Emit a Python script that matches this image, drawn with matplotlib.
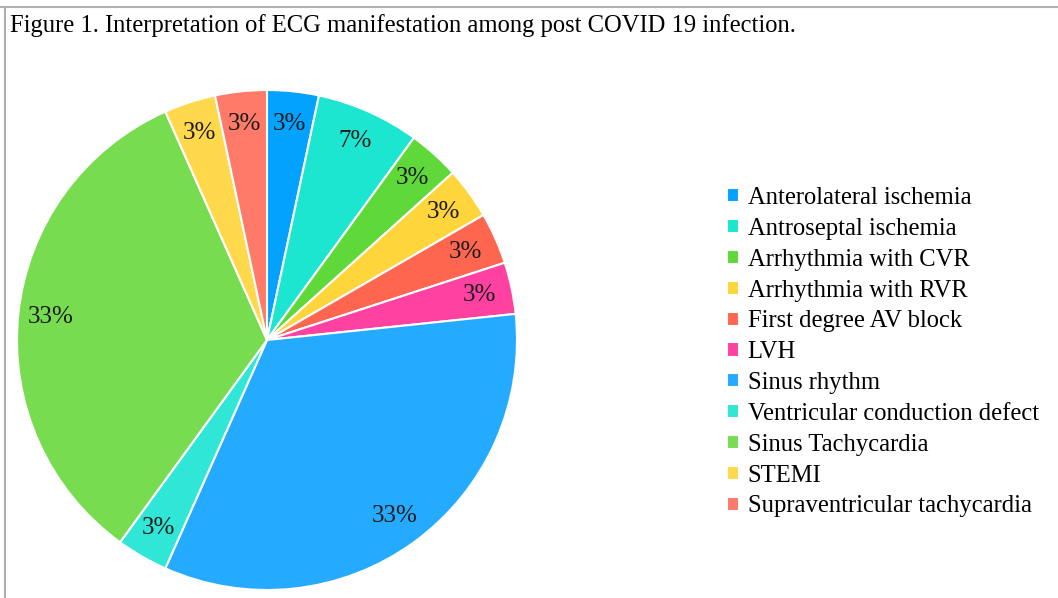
import matplotlib.pyplot as plt
from matplotlib.lines import Line2D

# ECG findings among post COVID 19 patients (counts, n = 30)
findings = [
    "Anterolateral ischemia",
    "Antroseptal ischemia",
    "Arrhythmia with CVR",
    "Arrhythmia with RVR",
    "First degree AV block",
    "LVH",
    "Sinus rhythm",
    "Ventricular conduction defect",
    "Sinus Tachycardia",
    "STEMI",
    "Supraventricular tachycardia",
]
counts = [1, 2, 1, 1, 1, 1, 10, 1, 10, 1, 1]
colors = [
    "#04A2FF", "#1CE6CF", "#5FD83A", "#FFD53C", "#FF6650", "#FF42A2",
    "#24ABFF", "#30E6D6", "#77DC50", "#FFD84C", "#FF7A68",
]

serif = ["Liberation Serif", "DejaVu Serif"]
plt.rcParams["font.family"] = serif

fig = plt.figure(figsize=(10.58, 5.98), dpi=100)

# frame lines (top and left) like the source figure
fig.add_artist(Line2D([0.0, 1.0], [0.988, 0.988], color="#b0b0b0", lw=1.5))
fig.add_artist(Line2D([0.005, 0.005], [0.0, 0.988], color="#b0b0b0", lw=1.5))

fig.text(0.009, 0.957, "Figure 1. Interpretation of ECG manifestation among post COVID 19 infection.",
         fontsize=17.7, va="center", ha="left")

ax = fig.add_axes([17 / 1058, 8 / 598, 500 / 1058, 500 / 598])
wedges, texts, autotexts = ax.pie(
    counts, colors=colors, startangle=90, counterclock=False,
    autopct=lambda p: f"{p:.0f}%", pctdistance=0.87,
    wedgeprops=dict(edgecolor="white", linewidth=1.5),
    textprops=dict(fontsize=18, color="#1a1a1a", family=serif),
)
ax.set_xlim(-1, 1)
ax.set_ylim(-1, 1)
ax.set_aspect("equal")

fig.legend(wedges, findings, loc="center left", bbox_to_anchor=(0.687, 0.411),
           frameon=False, fontsize=17.7, handlelength=0.5, handleheight=0.5,
           handletextpad=0.35, labelspacing=0.36, borderaxespad=0, borderpad=0)

fig.savefig("out.png", dpi=100)
